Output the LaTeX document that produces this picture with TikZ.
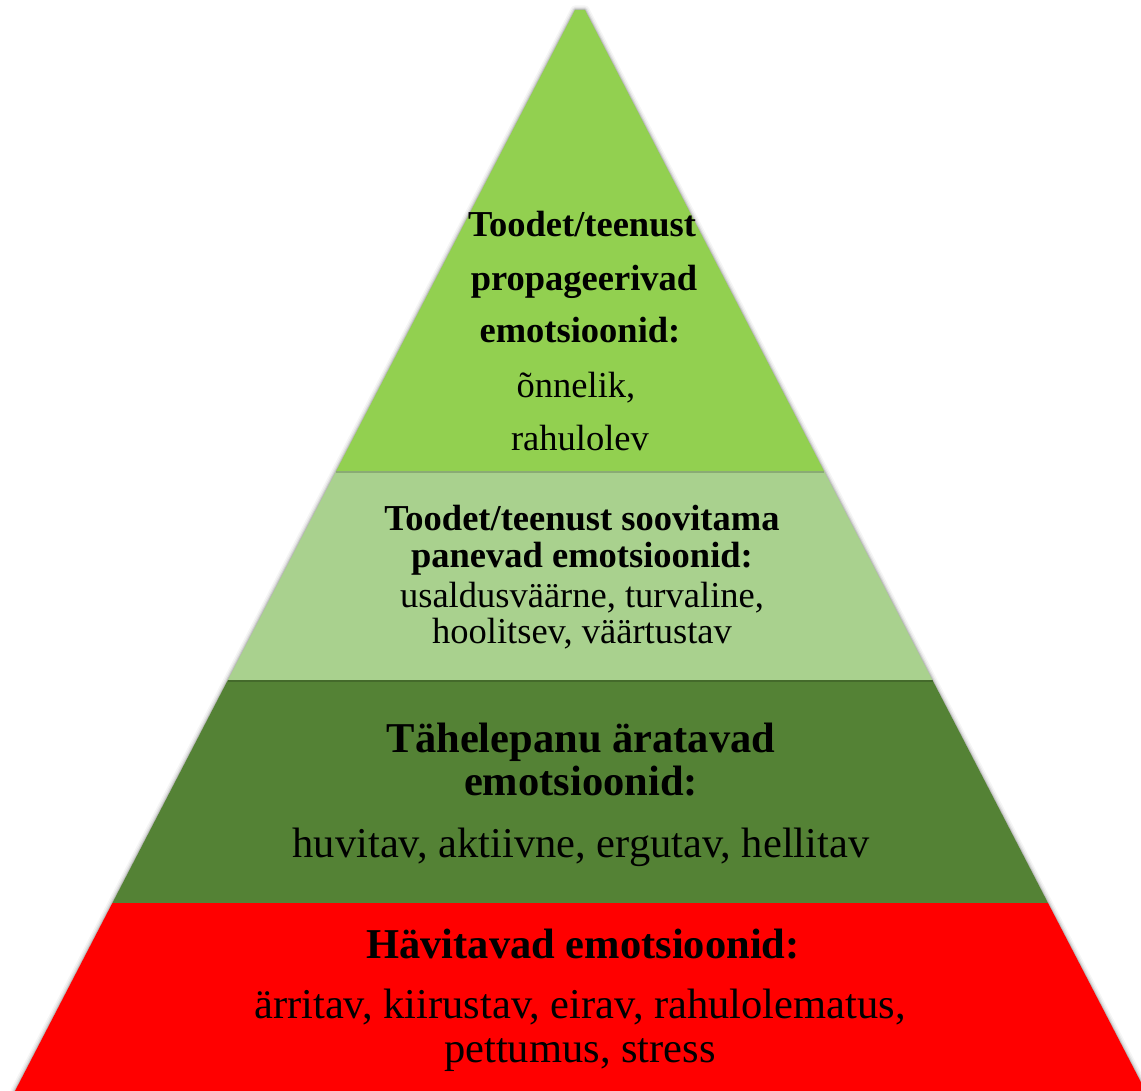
\documentclass[tikz,border=0pt]{standalone}
\usepackage{fontspec}
\setmainfont{Liberation Serif}
\definecolor{topgreen}{RGB}{146,208,80}
\definecolor{lightgreen}{RGB}{169,209,142}
\definecolor{darkgreen}{RGB}{84,130,53}
\definecolor{hotred}{RGB}{255,0,0}
\tikzset{
  bandA/.style={fill=topgreen, draw=none},
  bandB/.style={fill=lightgreen, draw=none},
  bandC/.style={fill=darkgreen, draw=none},
  bandD/.style={fill=hotred, draw=none},
  seam/.style={draw=black, opacity=0.18, line width=1.6pt},
  txtS/.style={anchor=base, inner sep=0pt, font=\fontsize{36.5}{40}\selectfont},
  txtSb/.style={txtS, font=\fontsize{36.5}{40}\selectfont\bfseries},
  txtL/.style={anchor=base, inner sep=0pt, font=\fontsize{42.5}{46}\selectfont},
  txtLb/.style={txtL, font=\fontsize{42.5}{46}\selectfont\bfseries},
}
\begin{document}
\begin{tikzpicture}[x=1pt,y=-1pt]
\useasboundingbox (0,0) rectangle (1141,1091);
% soft shadow around the pyramid
\foreach \w/\o in {9/0.04,6/0.06,3.5/0.09,1.5/0.12}{
  \draw[line width=\w pt, black, opacity=\o, line join=round]
    (575,10) -- (585,10) -- (1145.5,1091) -- (15,1091) -- cycle;
}
% bands
\fill[bandA] (575,10) -- (585,10) -- (824.0,471) -- (336.2,471) -- cycle;
\fill[bandB] (336.2,471) -- (824.0,471) -- (932.4,680) -- (227.9,680) -- cycle;
\fill[bandC] (227.9,680) -- (932.4,680) -- (1048,903) -- (112.4,903) -- cycle;
\fill[bandD] (112.4,903) -- (1048,903) -- (1145.5,1091) -- (15,1091) -- cycle;
% seams
\coordinate (s1l) at (336.2,471.8); \coordinate (s1r) at (824.4,471.8);
\coordinate (s2l) at (227.9,680.8); \coordinate (s2r) at (932.8,680.8);
\draw[seam] (s1l) -- (s1r);
\draw[seam] (s2l) -- (s2r);
% band 1 text
\node[txtSb] (a1) at (582,237) {Toodet/teenust};
\node[txtSb] (a2) at (584,291) {propageerivad};
\node[txtSb] (a3) at (580,343) {emotsioonid:};
\node[txtS]  (a4) at (576,397) {õnnelik,};
\node[txtS]  (a5) at (580,450) {rahulolev};
% band 2 text
\node[txtSb] (b1) at (582,530) {Toodet/teenust soovitama};
\node[txtSb] (b2) at (582,567) {panevad emotsioonid:};
\node[txtS]  (b3) at (582,607) {usaldusväärne, turvaline,};
\node[txtS]  (b4) at (582,643) {hoolitsev, väärtustav};
% band 3 text
\node[txtLb] (c1) at (581,752) {Tähelepanu äratavad};
\node[txtLb] (c2) at (581,795) {emotsioonid:};
\node[txtL]  (c3) at (581,857) {huvitav, aktiivne, ergutav, hellitav};
% band 4 text
\node[txtLb] (d1) at (583,958) {Hävitavad emotsioonid:};
\node[txtL]  (d2) at (580,1018) {ärritav, kiirustav, eirav, rahulolematus,};
\node[txtL]  (d3) at (580,1062) {pettumus, stress};
\end{tikzpicture}
\end{document}
